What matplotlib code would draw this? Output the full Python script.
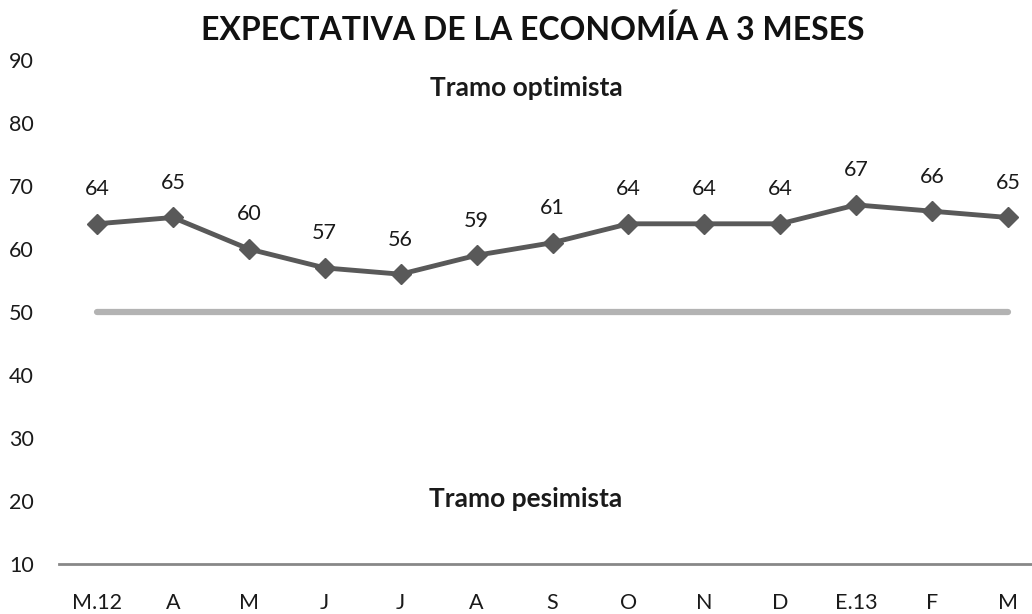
import matplotlib
matplotlib.use("Agg")
import matplotlib.pyplot as plt

plt.rcParams['font.family'] = ['Lato', 'DejaVu Sans']

categories = ["M.12", "A", "M", "J", "J", "A", "S", "O", "N", "D", "E.13", "F", "M"]
values = [64, 65, 60, 57, 56, 59, 61, 64, 64, 64, 67, 66, 65]
threshold = [50] * len(categories)
yticks = [10, 20, 30, 40, 50, 60, 70, 80, 90]

W, H = 1032, 614
fig = plt.figure(figsize=(W / 100, H / 100), dpi=100)
left = 59 / W
right = 1046 / W
bottom = 1 - 564 / H
top = 1 - 60 / H
ax = fig.add_axes([left, bottom, right - left, top - bottom])

x = list(range(len(categories)))
ax.plot(x, threshold, color='#b3b3b3', lw=4.5, solid_capstyle='round', zorder=1)
ax.plot(x, values, color='#595959', lw=3.5, marker='D', markersize=10.5, zorder=2)
for xi, v in zip(x, values):
    ax.text(xi, v + 5.5, str(v), ha='center', va='center', fontsize=15.5, color='#1a1a1a')

ax.set_xlim(-0.5, len(categories) - 0.5)
ax.set_ylim(10, 90)
ax.set_yticks(yticks)
ax.set_yticklabels([str(t) for t in yticks], fontsize=15.5, color='#1a1a1a')
ax.set_xticks(x)
ax.set_xticklabels(categories, fontsize=15.5, color='#1a1a1a')
ax.tick_params(axis='y', length=0, pad=18)
ax.tick_params(axis='x', length=0, pad=21)
for s in ['top', 'right', 'left']:
    ax.spines[s].set_visible(False)
ax.spines['bottom'].set_color('#888888')
ax.spines['bottom'].set_linewidth(2)

ax.text(5.65, 85.6, "Tramo optimista", ha='center', va='center', fontsize=19, fontweight='bold', color='#1a1a1a')
ax.text(5.65, 20.3, "Tramo pesimista", ha='center', va='center', fontsize=19, fontweight='bold', color='#1a1a1a')

fig.text(533 / W, 1 - 30 / H, "EXPECTATIVA DE LA ECONOMÍA A 3 MESES", ha='center', va='center',
         fontsize=23, fontweight='bold', color='#111111')

fig.savefig("out.png", dpi=100)
